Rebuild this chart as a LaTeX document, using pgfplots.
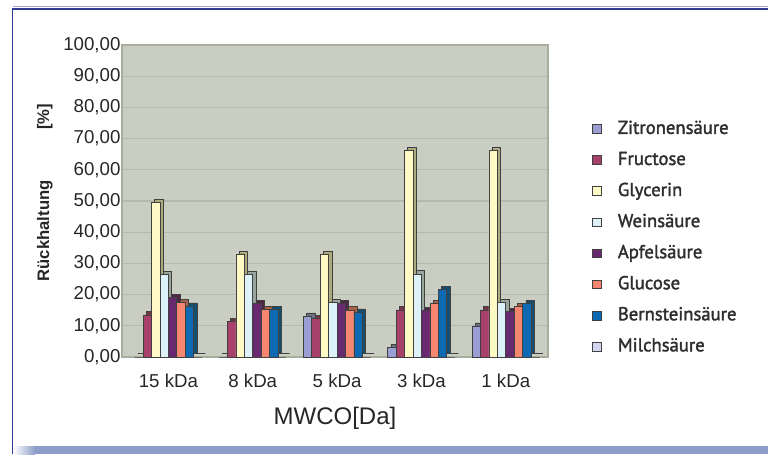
\documentclass[border=0pt]{standalone}
\usepackage{fontspec}
\setmainfont{Liberation Sans}
\newfontfamily\legfont{PT Sans}[FakeBold=1.8]
\usepackage{pgfplots}
\usepackage{pgfplotstable}
\pgfplotsset{compat=1.18}

\definecolor{wall}{HTML}{C9CDC2}
\definecolor{gridc}{HTML}{B4B9AD}
\definecolor{walledge}{HTML}{A7AE9C}
\definecolor{frameblue}{HTML}{2E3C92}
\definecolor{bandblue}{HTML}{8E9DC9}
\definecolor{cZit}{HTML}{9A9ED2}
\definecolor{cFru}{HTML}{A7406A}
\definecolor{cGly}{HTML}{FFF9C6}
\definecolor{cWei}{HTML}{DDF1F9}
\definecolor{cApf}{HTML}{68296F}
\definecolor{cGlu}{HTML}{F5866F}
\definecolor{cBer}{HTML}{0C69B2}
\definecolor{cMil}{HTML}{D3D6EF}

% Rueckhaltung [%] je Membran (MWCO)
\pgfplotstableread{
pos zit  fru  gly  wei  apf  glu  ber  mil
0   0    13.5 49.5 26.5 19.0 17.5 16.3 0
1   0    11.3 32.9 26.5 17.2 15.3 15.3 0
2   13.1 12.4 32.9 17.4 17.2 15.1 14.4 0
3   3.0  15.1 66.1 26.6 14.8 17.2 21.7 0
4   9.9  15.1 66.1 17.4 14.5 16.1 17.2 0
}\ret

% side/top face of a bar: shifted, darker copy drawn behind
\newcommand\depthbar[3]{%
  \addplot[ybar, bar width=0.1, bar shift=#2, fill=#3!70!black!90!olive, draw=black!75,
    line width=0.5pt, xshift=2.4pt, yshift=2.4pt, forget plot]
    table[x=pos, y=#1]{\ret};}
\newcommand\frontbar[4]{%
  \addplot[ybar, bar width=0.1, bar shift=#2, fill=#3, draw=black!75,
    line width=0.5pt]
    table[x=pos, y=#1]{\ret};
  \addlegendentry{#4}}

\begin{document}
\begin{tikzpicture}
\useasboundingbox (0pt,0pt) rectangle (576pt,340.5pt);
% frame
\fill[bandblue] (26.25pt,0pt) rectangle (576pt,6pt);
\shade[left color=white, right color=bandblue] (9.75pt,0pt) rectangle (26.4pt,6pt);
\draw[frameblue!45, line width=0.8pt] (9.4pt,335.4pt) -- (576pt,335.4pt);
\draw[frameblue, line width=1.2pt] (9.4pt,0pt) -- (9.4pt,333.75pt) -- (576pt,333.75pt);

\begin{axis}[
  at={(91.5pt,72.75pt)}, anchor=south west,
  scale only axis, width=319.5pt, height=234pt,
  xmin=-0.55, xmax=4.5, ymin=0, ymax=100,
  xtick={0,...,4},
  xticklabels={15 kDa, 8 kDa, 5 kDa, 3 kDa, 1 kDa},
  ytick={0,10,...,100},
  major tick length=0pt,
  ymajorgrids,
  grid style={color=gridc, line width=0.9pt},
  axis line style={draw=walledge, line width=0.8pt},
  axis background/.style={fill=wall},
  ticklabel style={font=\fontsize{14}{14}\selectfont, text=black!85},
  yticklabel style={inner sep=1pt,
    /pgf/number format/fixed, /pgf/number format/fixed zerofill,
    /pgf/number format/precision=2, /pgf/number format/use comma,
    /pgf/number format/1000 sep={}, /pgf/number format/assume math mode=true},
  xticklabel style={yshift=-9pt},
  xlabel={MWCO[Da]},
  xlabel style={font=\fontsize{18}{18}\selectfont, text=black!85,
    at={(axis description cs:0.5,-0.196)}, anchor=center},
  ylabel={Rückhaltung\hspace{38pt}[\%]},
  ylabel style={font=\bfseries\fontsize{12.5}{12.5}\selectfont, text=black!85,
    at={(axis description cs:-0.181,0.527)}, anchor=center},
  legend cell align=left,
  legend image code/.code={%
    \draw[#1, draw=black!75, line width=0.7pt] (0pt,-3.3pt) rectangle (6.6pt,3.3pt);},
  legend style={at={(axis description cs:1.103,0.763)}, anchor=north west,
    draw=none, fill=none, inner sep=0pt, row sep=8.3pt,
    font=\legfont\fontsize{14}{14}\selectfont, text=black!82,
    nodes={inner sep=1pt, text height=10pt, text depth=3pt},
    /tikz/every odd column/.append style={column sep=11pt}},
]
\depthbar{zit}{-0.35}{cZit}
\depthbar{fru}{-0.25}{cFru}
\depthbar{gly}{-0.15}{cGly}
\depthbar{wei}{-0.05}{cWei}
\depthbar{apf}{0.05}{cApf}
\depthbar{glu}{0.15}{cGlu}
\depthbar{ber}{0.25}{cBer}
\depthbar{mil}{0.35}{cMil}
\frontbar{zit}{-0.35}{cZit}{Zitronensäure}
\frontbar{fru}{-0.25}{cFru}{Fructose}
\frontbar{gly}{-0.15}{cGly}{Glycerin}
\frontbar{wei}{-0.05}{cWei}{Weinsäure}
\frontbar{apf}{0.05}{cApf}{Apfelsäure}
\frontbar{glu}{0.15}{cGlu}{Glucose}
\frontbar{ber}{0.25}{cBer}{Bernsteinsäure}
\frontbar{mil}{0.35}{cMil}{Milchsäure}
\end{axis}
\end{tikzpicture}
\end{document}
